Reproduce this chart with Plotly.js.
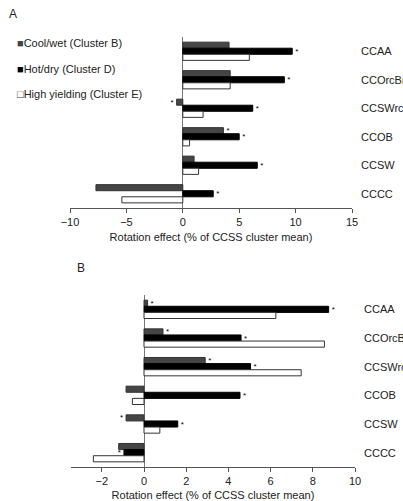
<!DOCTYPE html>
<html>
<head>
<meta charset="utf-8">
<script src="https://cdn.plot.ly/plotly-3.0.1.min.js"></script>
<style>html,body{margin:0;padding:0;background:#fff}#chart{width:403px;height:501px}</style>
</head>
<body>
<div id="chart"></div>
<script>
const categories = ["CCAA", "CCOrcBr", "CCSWrc", "CCOB", "CCSW", "CCCC"];
const seriesNames = ["Cool/wet (Cluster B)", "Hot/dry (Cluster D)", "High yielding (Cluster E)"];

// Panel A values (% of CCSS cluster mean)
const coolWetA = [4.1, 4.2, -0.55, 3.6, 1.0, -7.7];
const hotDryA = [9.7, 9.0, 6.2, 5.0, 6.6, 2.7];
const highYieldA = [5.9, 4.2, 1.8, 0.6, 1.4, -5.4];
const sigCoolWetA = ["", "", "*", "*", "", ""];
const sigHotDryA = ["*", "*", "*", "*", "*", "*"];
const sigHighYieldA = ["", "", "", "", "", ""];

// Panel B values
const coolWetB = [0.17, 0.9, 2.9, -0.85, -0.85, -1.2];
const hotDryB = [8.75, 4.6, 5.05, 4.55, 1.6, -0.95];
const highYieldB = [6.25, 8.55, 7.45, -0.55, 0.75, -2.4];
const sigCoolWetB = ["*", "*", "*", "", "*", ""];
const sigHotDryB = ["*", "*", "*", "*", "*", "*"];
const sigHighYieldB = ["", "", "", "", "", ""];

const xTitle = "Rotation effect (% of CCSS cluster mean)";

const fills = ["#454545", "#000000", "#ffffff"];
const outlines = ["#333333", "#000000", "#333333"];
const legendGlyphs = ["■", "■", "□"];
const legendGlyphColors = ["#454545", "#000000", "#333333"];

function mk(vals, sig, i, xa, ya) {
  return {
    type: "bar", orientation: "h",
    x: vals, y: categories, name: seriesNames[i],
    xaxis: xa, yaxis: ya, showlegend: false,
    marker: {color: fills[i], line: {color: outlines[i], width: 1}},
    text: sig, textposition: "outside", constraintext: "none", cliponaxis: false,
    textfont: {size: 8, color: "#000", family: "Liberation Sans, Arial, sans-serif"},
    hoverinfo: "x+y+name"
  };
}

const data = [
  mk(coolWetA, sigCoolWetA, 0, "x", "y"),
  mk(hotDryA, sigHotDryA, 1, "x", "y"),
  mk(highYieldA, sigHighYieldA, 2, "x", "y"),
  mk(coolWetB, sigCoolWetB, 0, "x2", "y2"),
  mk(hotDryB, sigHotDryB, 1, "x2", "y2"),
  mk(highYieldB, sigHighYieldB, 2, "x2", "y2")
];

const font = {family: "Liberation Sans, Arial, sans-serif", size: 11, color: "#222"};

const xaxisCommon = {
  showgrid: false, showline: true, linecolor: "#555", linewidth: 1,
  ticks: "outside", ticklen: 4, tickcolor: "#555",
  zeroline: true, zerolinecolor: "#777", zerolinewidth: 1,
  tickfont: {size: 11, color: "#222"},
  title: {text: xTitle, font: {size: 11, color: "#222"}, standoff: 6},
  fixedrange: true
};
const yaxisCommon = {
  type: "category", autorange: "reversed", side: "right",
  showgrid: false, showline: false, ticks: "", zeroline: false,
  ticklabelstandoff: 8,
  tickfont: {size: 11, color: "#222"}, fixedrange: true
};

// legend drawn as text rows (glyph + series name)
const legendRowsY = [43, 69, 94];
const legendAnn = seriesNames.map((n, i) => ({
  text: '<span style="color:' + legendGlyphColors[i] + '">' + legendGlyphs[i] + '</span>' + n,
  xref: "paper", yref: "paper", x: 15/403, y: 1 - legendRowsY[i]/501,
  xanchor: "left", yanchor: "middle", showarrow: false,
  font: {size: 11, color: "#222", family: "Liberation Sans, Arial, sans-serif"}
}));

const layout = {
  width: 403, height: 501,
  margin: {l: 0, r: 0, t: 0, b: 0},
  paper_bgcolor: "#fff", plot_bgcolor: "#fff",
  font: font,
  barmode: "group", bargap: 0.36, bargroupgap: 0,
  showlegend: false,
  xaxis: Object.assign({}, xaxisCommon, {domain: [70/403, 352/403], range: [-10, 15], dtick: 5, anchor: "y"}),
  yaxis: Object.assign({}, yaxisCommon, {domain: [1 - 208/501, 1 - 37/501], anchor: "x"}),
  xaxis2: Object.assign({}, xaxisCommon, {domain: [71/403, 355/403], range: [-3.46, 10], dtick: 2, anchor: "y2"}),
  yaxis2: Object.assign({}, yaxisCommon, {domain: [1 - 467/501, 1 - 295/501], anchor: "x2"}),
  annotations: [
    {text: "A", xref: "paper", yref: "paper", x: 13/403, y: 1 - 14/501, xanchor: "center", yanchor: "middle", showarrow: false, font: {size: 12, color: "#222"}},
    {text: "B", xref: "paper", yref: "paper", x: 81/403, y: 1 - 268/501, xanchor: "center", yanchor: "middle", showarrow: false, font: {size: 12, color: "#222"}}
  ].concat(legendAnn)
};

Plotly.newPlot("chart", data, layout, {displayModeBar: false, staticPlot: true});
</script>
</body>
</html>
